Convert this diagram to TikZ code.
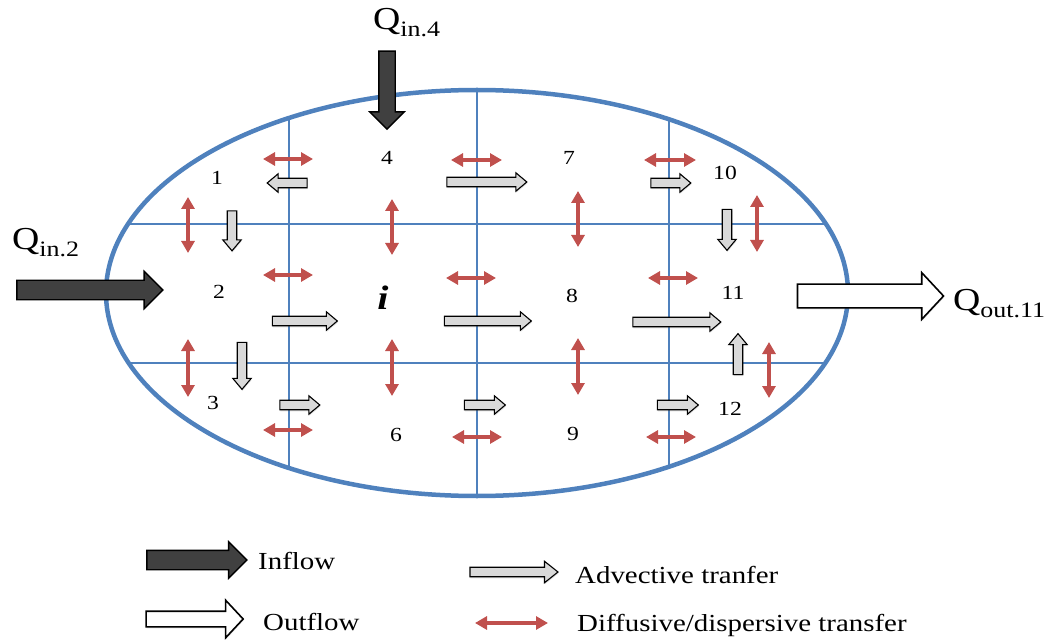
\documentclass[tikz,border=0pt]{standalone}
\usepackage{fontspec}
\setmainfont{Liberation Serif}[FakeStretch=1.18]
\usetikzlibrary{arrows.meta,shapes.arrows,shadows}

\definecolor{cellblue}{RGB}{79,129,189}
\definecolor{diffred}{RGB}{192,80,77}
\definecolor{advgray}{RGB}{217,217,217}
\definecolor{flowdark}{RGB}{64,64,64}

\newcommand{\qflow}[1]{{\fontsize{32}{32}\selectfont Q}\raisebox{-7pt}{\fontsize{22}{22}\selectfont #1}}

\tikzset{
  cellline/.style={cellblue, line width=1.1pt},
  boundary/.style={cellblue, line width=4.5pt},
  cellno/.style={inner sep=0pt, font=\fontsize{20}{20}\selectfont},
  legend/.style={anchor=base west, inner sep=0pt, font=\fontsize{24.5}{25}\selectfont},
  diff/.style={diffred, line width=3.5pt,
    {Triangle[length=12pt,width=13pt]}-{Triangle[length=12pt,width=13pt]}},
  % the shaft is 2*inner ysep wide, the head adds the extend on each side
  blockarrow/.style={single arrow, draw=black, inner xsep=0pt,
    single arrow head indent=0pt},
  advect/.style={blockarrow, fill=advgray, line width=1.1pt, inner ysep=4.2pt,
    single arrow head extend=4.5pt, single arrow tip angle=80,
    drop shadow={shadow xshift=0.5pt, shadow yshift=-1.5pt, opacity=0.25}},
  inflow/.style={blockarrow, fill=flowdark, line width=1.4pt, inner ysep=9pt,
    single arrow head extend=9pt, single arrow tip angle=90},
  outflow/.style={blockarrow, fill=white, line width=1.6pt, inner ysep=11pt,
    single arrow head extend=11.5pt, single arrow tip angle=94,
    drop shadow={shadow xshift=0.5pt, shadow yshift=-1.5pt, opacity=0.25}},
}

\begin{document}
\begin{tikzpicture}[x=1pt, y=-1pt]
\useasboundingbox (0,0) rectangle (1049,644);

% cell grid, cut to the aquifer outline
\begin{scope}
\clip (477,293) ellipse [x radius=371pt, y radius=203pt];
\foreach \x in {289,477,669}
  \draw[cellline] (\x,80) -- (\x,510);
\foreach \y in {224,363}
  \draw[cellline] (90,\y) -- (870,\y);
\end{scope}
\draw[boundary] (477,293) ellipse [x radius=371pt, y radius=203pt];

% cell numbers
\node[cellno] (c1) at (217,178) {1};
\node[cellno] (c2) at (219,292) {2};
\node[cellno] (c3) at (213,403) {3};
\node[cellno] (c4) at (387,158) {4};
\node[inner sep=0pt, font=\fontsize{34}{34}\selectfont\bfseries\itshape] (ci) at (383,298) {i};
\node[cellno] (c6) at (396,435) {6};
\node[cellno] (c7) at (569,158) {7};
\node[cellno] (c8) at (572,296) {8};
\node[cellno] (c9) at (573,434) {9};
\node[cellno] (c10) at (725,173) {10};
\node[cellno] (c11) at (733,293) {11};
\node[cellno] (c12) at (730,409) {12};

% diffusive/dispersive exchange across the cell faces
\foreach \xa/\xb/\y in {263/313/159, 451/502/160, 644/696/160,
                        263/313/275, 446/496/278, 648/698/278,
                        263/313/430, 452/502/437, 646/696/437}
  \draw[diff] (\xa,\y) -- (\xb,\y);
\foreach \x/\ya/\yb in {188/197/253, 392/199/255, 578/191/247, 757/195/252,
                        188/339/397, 392/339/396, 578/338/395, 769/342/398}
  \draw[diff] (\x,\ya) -- (\x,\yb);

% advective transfer between cells
\node[advect, minimum height=40pt, rotate=180] (a41) at (290,183) {};
\node[advect, minimum height=80pt] (a47) at (484,182) {};
\node[advect, minimum height=40pt] (a710) at (668,183) {};
\node[advect, minimum height=40pt, rotate=-90] (a12) at (232,228) {};
\node[advect, minimum height=41pt, rotate=-90] (a1011) at (727,227) {};
\node[advect, minimum height=65pt] (a2i) at (302,321) {};
\node[advect, minimum height=87pt] (ai8) at (485,321) {};
\node[advect, minimum height=88pt] (a811) at (674,322) {};
\node[advect, minimum height=47pt, rotate=-90] (a23) at (242,363) {};
\node[advect, minimum height=41pt, rotate=90] (a1211) at (738,357) {};
\node[advect, minimum height=40pt] (a36) at (297,405) {};
\node[advect, minimum height=41pt] (a69) at (482,405) {};
\node[advect, minimum height=41pt] (a912) at (675,405) {};

% sources and sink
\node[inflow, minimum height=78pt, inner ysep=7.5pt, rotate=-90] (qin4) at (387,86) {};
\node[inflow, minimum height=146pt] (qin2) at (85,290) {};
\node[outflow, minimum height=146pt] (qout) at (865,296) {};
\node[anchor=base west, inner sep=0pt] (tq4) at (373,30) {\qflow{in.4}};
\node[anchor=base west, inner sep=0pt] (tq2) at (12,250) {\qflow{in.2}};
\node[anchor=base west, inner sep=0pt] (tq11) at (953,310) {\qflow{out.11}};

% legend
\node[inflow, minimum height=100pt, single arrow head extend=8.5pt] (lin) at (192,560) {};
\node[outflow, minimum height=97pt, inner ysep=7pt, single arrow head extend=11pt] (lout) at (191,619) {};
\node[advect, minimum height=88pt, single arrow head extend=6pt, single arrow tip angle=77] (ladv) at (511,572) {};
\draw[diff] (475,623) -- (548,623);
\node[legend] (tin) at (258,569) {Inflow};
\node[legend] (tout) at (263,630) {Outflow};
\node[legend] (tadv) at (575,583) {Advective tranfer};
\node[legend] (tdiff) at (577,631) {Diffusive/dispersive transfer};

\end{tikzpicture}
\end{document}
